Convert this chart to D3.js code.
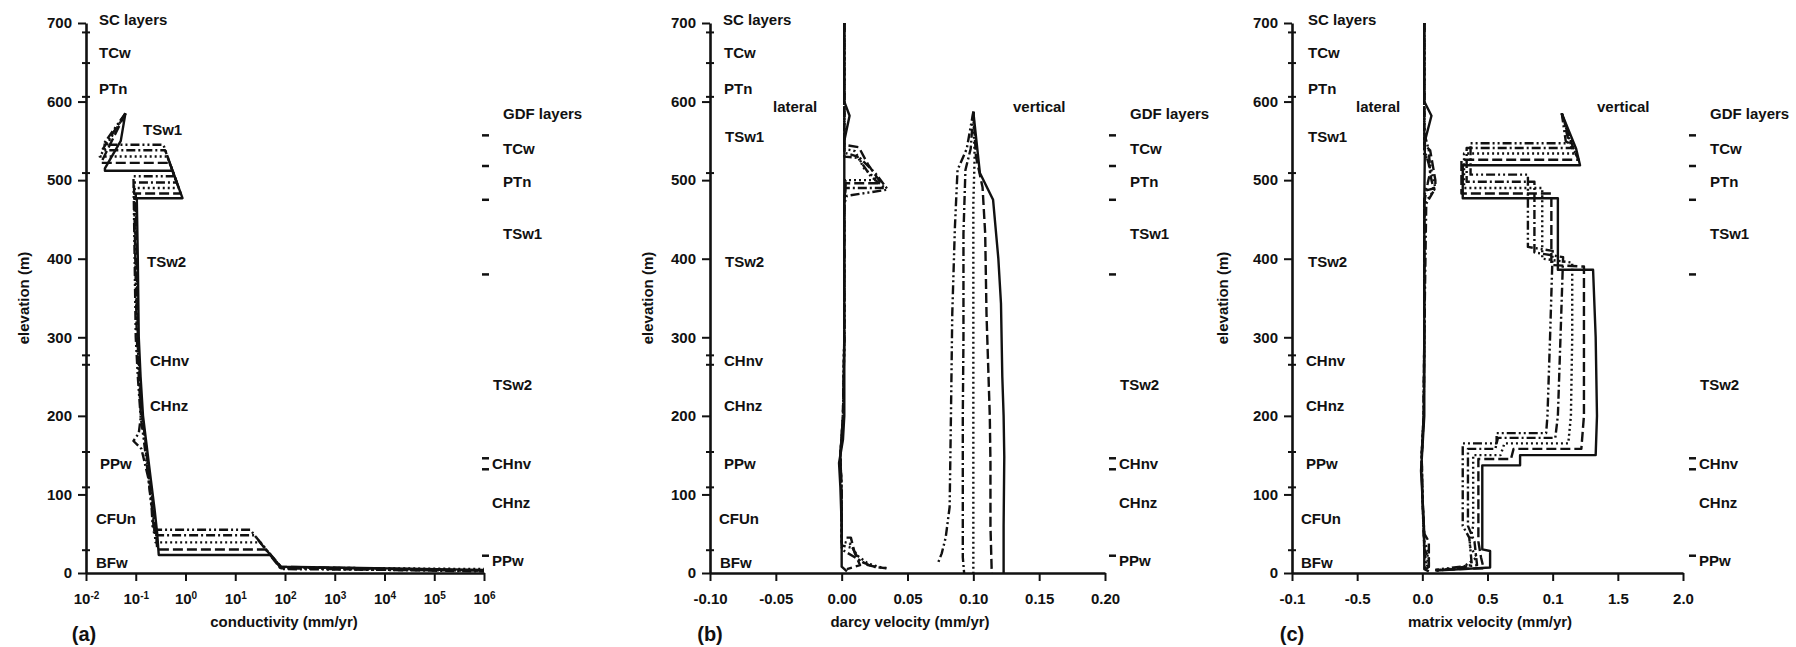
<!DOCTYPE html>
<html>
<head>
<meta charset="utf-8">
<script src="https://cdn.jsdelivr.net/npm/d3@7"></script>
<style>
body { margin: 0; background: #fff; }
text { font-family: "Liberation Sans", Arial, sans-serif; font-weight: bold; fill: #111; }
</style>
</head>
<body>
<svg id="chart" width="1796" height="647"></svg>
<script>
// axis ticks
var elevTicks = [0, 100, 200, 300, 400, 500, 600, 700];
var condTicks = [1e-2, 1e-1, 1e0, 1e1, 1e2, 1e3, 1e4, 1e5, 1e6];
var darcyTicks = [-0.10, -0.05, 0, 0.05, 0.10, 0.15, 0.20];
var darcyTickLabels = ["-0.10", "-0.05", "0.00", "0.05", "0.10", "0.15", "0.20"];
var matrixTicks = [-1, -0.5, 0, 0.5, 1, 1.5, 2];
var matrixTickLabels = ["-0.1", "-0.5", "0.0", "0.5", "0.1", "1.5", "2.0"]; // as printed

// layer annotations (elevations in m)
var scLayers = ["SC layers", "TCw", "PTn", "TSw1", "TSw2", "CHnv", "CHnz", "PPw", "CFUn", "BFw"];
var scLabelElev = [704, 663, 617, 556, 396, 270, 213, 139, 70, 13];
var scBounds = [688, 649, 606, 509, 277, 265, 154, 109, 29];
var gdfLayers = ["GDF layers", "TCw", "PTn", "TSw1", "TSw2", "CHnv", "CHnz", "PPw"];
var gdfLabelElev = [585, 540, 498, 432, 240, 139, 90, 16];
var gdfBounds = [557, 518, 475, 380, 146, 132, 22];

// five cases, [value, elevation]
var seriesNames = ["case 1", "case 2", "case 3", "case 4", "case 5"];

// (a) conductivity
var condS1 = [[0.062,585],[0.05,550],[0.024,515],[0.024,512],[0.55,512],[0.87,477],[0.105,477],[0.11,400],[0.115,300],[0.125,250],[0.14,200],[0.16,170],[0.2,120],[0.24,80],[0.27,50],[0.29,23],[50,23],[83,8],[1e6,4]];
var condS2 = [[0.062,585],[0.02,522],[0.48,522],[0.8,483],[0.1,483],[0.105,400],[0.11,300],[0.12,250],[0.135,200],[0.155,170],[0.19,120],[0.23,80],[0.26,45],[0.27,30],[42,30],[83,8],[1e6,3]];
var condS3 = [[0.062,585],[0.019,530],[0.43,530],[0.73,490],[0.095,490],[0.1,400],[0.108,300],[0.118,250],[0.13,200],[0.15,170],[0.185,120],[0.22,80],[0.25,39],[32,39],[83,7],[1e6,5]];
var condS4 = [[0.062,585],[0.021,538],[0.39,538],[0.67,497],[0.092,497],[0.098,400],[0.105,300],[0.115,250],[0.127,200],[0.115,178],[0.09,168],[0.13,158],[0.18,120],[0.215,80],[0.235,48],[24.6,48],[83,6],[1e6,2]];
var condS5 = [[0.062,585],[0.022,545],[0.36,545],[0.6,505],[0.09,505],[0.095,400],[0.1,300],[0.11,250],[0.125,200],[0.145,170],[0.18,120],[0.21,80],[0.22,55],[20,55],[83,5],[1e6,3]];

// (b) darcy velocity, lateral and vertical
var darcyLatS1 = [[0.002,700],[0.002,600],[0.006,582],[0.002,550],[0.002,470],[0.002,300],[0.002,200],[0.001,170],[-0.002,140],[-0.001,110],[0,60],[0,8],[0.004,2]];
var darcyLatS2 = [[0.002,700],[0.002,545],[0.013,542],[0.02,520],[0.03,496],[0.003,496],[0.002,470],[0.002,300],[0.001,200],[-0.001,150],[0,100],[0,45],[0.007,45],[0.01,25],[0.014,10],[0.004,5]];
var darcyLatS3 = [[0.002,700],[0.002,540],[0.01,537],[0.017,515],[0.027,500],[0.003,500],[0.002,470],[0.002,300],[0.001,200],[-0.001,150],[0,100],[0,40],[0.006,38],[0.012,22],[0.02,12],[0.03,7],[0.036,6]];
var darcyLatS4 = [[0.002,700],[0.002,535],[0.012,530],[0.022,505],[0.033,490],[0.003,490],[0.002,470],[0.002,300],[0.001,200],[-0.001,150],[0,100],[0,35],[0.008,32],[0.014,15],[0.024,8],[0.034,6]];
var darcyLatS5 = [[0.002,700],[0.002,530],[0.014,528],[0.026,508],[0.035,488],[0.004,480],[0.002,470],[0.002,300],[0.001,200],[-0.001,150],[0,100],[0,30],[0.01,20],[0.02,10],[0.028,7]];
var darcyVertS1 = [[0.1,587],[0.105,509],[0.115,475],[0.119,400],[0.121,343],[0.122,250],[0.123,200],[0.1235,148],[0.123,60],[0.123,20],[0.123,0]];
var darcyVertS2 = [[0.1,587],[0.102,530],[0.107,491],[0.109,432],[0.11,330],[0.1125,200],[0.113,140],[0.113,60],[0.114,0]];
var darcyVertS3 = [[0.1,587],[0.101,530],[0.1,470],[0.1,300],[0.1,200],[0.1,100],[0.1,0]];
var darcyVertS4 = [[0.1,587],[0.098,540],[0.094,513],[0.0925,432],[0.0925,300],[0.092,200],[0.092,100],[0.092,20],[0.093,0]];
var darcyVertS5 = [[0.1,587],[0.095,540],[0.088,513],[0.086,440],[0.084,330],[0.083,200],[0.082,84],[0.079,45],[0.076,25],[0.073,12]];

// (c) matrix velocity, lateral and vertical
var matLatS1 = [[0.015,700],[0.015,600],[0.07,582],[0.02,550],[0.015,470],[0.015,300],[0.015,200],[0,157],[-0.01,130],[0,100],[0.015,50],[0.015,5],[0.05,2]];
var matLatS2 = [[0.015,700],[0.015,545],[0.06,538],[0.1,500],[0.1,490],[0.03,487],[0.015,470],[0.015,300],[0.01,200],[-0.005,150],[0,100],[0.015,50],[0.05,40],[0.05,8],[0.02,5]];
var matLatS3 = [[0.015,700],[0.015,530],[0.05,528],[0.08,505],[0.1,490],[0.06,480],[0.015,470],[0.015,300],[0.01,200],[-0.005,150],[0,100],[0.015,40],[0.04,30],[0.04,10],[0.02,5]];
var matLatS4 = [[0.015,700],[0.015,540],[0.05,520],[0.07,500],[0.09,487],[0.03,470],[0.015,300],[0.01,200],[-0.005,150],[0,100],[0.015,30],[0.05,20],[0.05,8],[0.02,4]];
var matLatS5 = [[0.015,700],[0.015,560],[0.05,538],[0.06,510],[0.04,495],[0.015,480],[0.015,300],[0.01,200],[-0.005,150],[0,100],[0.015,25],[0.03,15],[0.02,6]];
var matVertS1 = [[1.07,585],[1.18,540],[1.21,519],[0.31,519],[0.31,477],[1.04,477],[1.04,386],[1.31,386],[1.33,300],[1.34,200],[1.33,150],[0.75,150],[0.75,137],[0.46,137],[0.46,30],[0.52,28],[0.52,7],[0.1,3]];
var matVertS2 = [[1.07,585],[1.17,535],[1.2,526],[0.3,526],[0.3,483],[0.99,483],[0.99,392],[1.24,390],[1.24,300],[1.24,200],[1.22,158],[0.7,158],[0.68,145],[0.43,145],[0.43,40],[0.45,20],[0.47,6],[0.1,4]];
var matVertS3 = [[1.07,585],[1.15,540],[1.18,534],[0.32,534],[0.32,490],[0.92,490],[0.92,400],[1.15,395],[1.15,300],[1.14,200],[1.12,165],[0.63,165],[0.6,150],[0.39,150],[0.39,60],[0.36,35],[0.42,20],[0.3,6],[0.1,3]];
var matVertS4 = [[1.07,585],[1.13,545],[1.15,541],[0.34,541],[0.34,498],[0.86,498],[0.86,408],[1.08,402],[1.06,300],[1.04,200],[1.02,172],[0.58,172],[0.56,158],[0.35,158],[0.35,60],[0.4,40],[0.42,10],[0.2,5],[0.1,3]];
var matVertS5 = [[1.07,585],[1.1,550],[1.12,547],[0.37,547],[0.37,507],[0.81,507],[0.81,415],[1.0,410],[0.98,300],[0.96,200],[0.95,178],[0.57,178],[0.57,165],[0.31,165],[0.31,60],[0.36,45],[0.38,10],[0.1,4]];

// line style per case
var seriesDash = [null, "10,4", "2,3", "9,3,2,3", "9,3,2,3,2,3"];

var svg = d3.select("#chart");
var y = d3.scaleLinear().domain([0, 700]).range([573, 23]);

var panels = [
    {scale: d3.scaleLog().domain([1e-2, 1e6]).range([86, 484]), ticks: condTicks, tickLabels: null,
     title: "conductivity (mm/yr)", titleX: 284, tag: "(a)", tagX: 84, yTitleX: 23, gdfX: 503,
     scDx: [13, 13, 13, 57, 61, 64, 64, 14, 10, 10], scDy: [0, 0, 0, -7, 0, 0, 0, 0, 0, 0],
     series: [condS1, condS2, condS3, condS4, condS5], lateralX: null},
    {scale: d3.scaleLinear().domain([-0.1, 0.2]).range([710, 1105]), ticks: darcyTicks, tickLabels: darcyTickLabels,
     title: "darcy velocity (mm/yr)", titleX: 910, tag: "(b)", tagX: 710, yTitleX: 647, gdfX: 1130,
     scDx: [13, 14, 14, 15, 15, 14, 14, 14, 9, 10], scDy: [0, 0, 0, 0, 0, 0, 0, 0, 0, 0],
     series: [darcyLatS1, darcyLatS2, darcyLatS3, darcyLatS4, darcyLatS5,
              darcyVertS1, darcyVertS2, darcyVertS3, darcyVertS4, darcyVertS5],
     lateralX: 773, verticalX: 1013},
    {scale: d3.scaleLinear().domain([-1, 2]).range([1292, 1683]), ticks: matrixTicks, tickLabels: matrixTickLabels,
     title: "matrix velocity (mm/yr)", titleX: 1490, tag: "(c)", tagX: 1292, yTitleX: 1222, gdfX: 1710,
     scDx: [16, 16, 16, 16, 16, 14, 14, 14, 9, 9], scDy: [0, 0, 0, 0, 0, 0, 0, 0, 0, 0],
     series: [matLatS1, matLatS2, matLatS3, matLatS4, matLatS5,
              matVertS1, matVertS2, matVertS3, matVertS4, matVertS5],
     lateralX: 1356, verticalX: 1597}
];

var gdfDx = [0, 0, 0, 0, -10, -11, -11, -11];

panels.forEach(function(p) {
    var x = p.scale;
    var x0 = x.range()[0];
    var g = svg.append("g");

    //data lines
    var line = d3.line()
        .x(function(d) { return x(d[0]); })
        .y(function(d) { return y(d[1]); });

    g.selectAll("path.series")
     .data(p.series)
     .enter().append("path")
     .attr("class", "series")
     .attr("d", line)
     .attr("fill", "none")
     .attr("stroke", "#111")
     .attr("stroke-width", 2.4)
     .attr("stroke-linejoin", "round")
     .attr("stroke-dasharray", function(d, i) { return seriesDash[i % 5]; });

    //y axis
    var yAxis = d3.axisLeft(y).tickValues(elevTicks).tickSize(8).tickSizeOuter(0).tickPadding(6);
    var ya = g.append("g")
     .attr("transform", "translate(" + x0 + ",0)")
     .call(yAxis);
    ya.select(".domain").attr("stroke", "#111").attr("stroke-width", 2.6);
    ya.selectAll(".tick line").attr("stroke", "#111").attr("stroke-width", 2);
    ya.selectAll(".tick text").attr("font-size", 15).attr("font-family", null).attr("fill", "#111");

    //x axis
    var xAxis = d3.axisBottom(x).tickValues(p.ticks).tickSize(8).tickSizeOuter(0).tickPadding(12);
    if (p.tickLabels) xAxis.tickFormat(function(d, i) { return p.tickLabels[i]; });
    var xa = g.append("g")
     .attr("transform", "translate(0," + y(0) + ")")
     .call(xAxis);
    xa.select(".domain").attr("stroke", "#111").attr("stroke-width", 2.6);
    xa.selectAll(".tick line").attr("stroke", "#111").attr("stroke-width", 2);
    xa.selectAll(".tick text").attr("font-size", 15).attr("font-family", null).attr("fill", "#111");
    if (!p.tickLabels) {
        xa.selectAll(".tick text").each(function(d) {
            var t = d3.select(this);
            t.text("10");
            t.append("tspan").attr("dy", "-0.45em").attr("font-size", 10)
             .text(Math.round(Math.log10(d)));
        });
    }

    //SC layer boundaries on the axis
    g.selectAll("line.scb")
     .data(scBounds)
     .enter().append("line")
     .attr("x1", x0 - 4).attr("x2", x0 + 4)
     .attr("y1", function(d) { return y(d); }).attr("y2", function(d) { return y(d); })
     .attr("stroke", "#111").attr("stroke-width", 2);

    g.selectAll("text.sc")
     .data(scLayers)
     .enter().append("text")
     .attr("x", function(d, i) { return x0 + p.scDx[i]; })
     .attr("y", function(d, i) { return y(scLabelElev[i]) + p.scDy[i]; })
     .attr("dominant-baseline", "central")
     .attr("font-size", 15)
     .text(function(d) { return d; });

    //GDF layers on the right
    g.selectAll("line.gdf")
     .data(gdfBounds)
     .enter().append("line")
     .attr("x1", p.gdfX - 21).attr("x2", p.gdfX - 14)
     .attr("y1", function(d) { return y(d); }).attr("y2", function(d) { return y(d); })
     .attr("stroke", "#111").attr("stroke-width", 2.5);

    g.selectAll("text.gdf")
     .data(gdfLayers)
     .enter().append("text")
     .attr("x", function(d, i) { return p.gdfX + gdfDx[i]; })
     .attr("y", function(d, i) { return y(gdfLabelElev[i]); })
     .attr("dominant-baseline", "central")
     .attr("font-size", 15)
     .text(function(d) { return d; });

    if (p.lateralX) {
        g.append("text").attr("x", p.lateralX).attr("y", 106)
         .attr("dominant-baseline", "central").attr("font-size", 15).text("lateral");
        g.append("text").attr("x", p.verticalX).attr("y", 106)
         .attr("dominant-baseline", "central").attr("font-size", 15).text("vertical");
    }

    //axis titles
    g.append("text")
     .attr("transform", "translate(" + p.yTitleX + ",298) rotate(-90)")
     .attr("text-anchor", "middle")
     .attr("dominant-baseline", "central")
     .attr("font-size", 15)
     .text("elevation (m)");

    g.append("text")
     .attr("x", p.titleX).attr("y", 621)
     .attr("text-anchor", "middle")
     .attr("dominant-baseline", "central")
     .attr("font-size", 15)
     .text(p.title);

    g.append("text")
     .attr("x", p.tagX).attr("y", 634)
     .attr("text-anchor", "middle")
     .attr("dominant-baseline", "central")
     .attr("font-size", 20)
     .text(p.tag);
});
</script>
</body>
</html>
